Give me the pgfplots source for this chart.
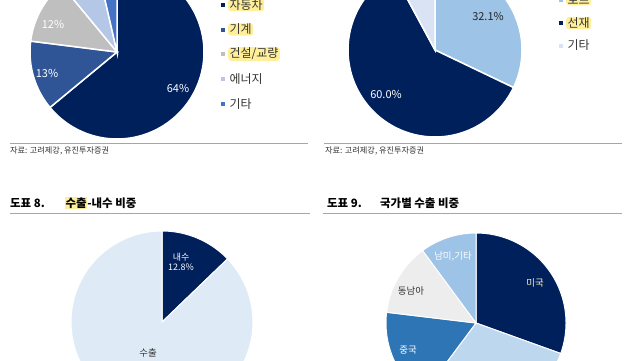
\documentclass[border=0pt]{standalone}
\usepackage{pgfplots}
\pgfplotsset{compat=1.18}
\usepackage{fontspec}
\setmainfont{Noto Sans CJK KR}
\definecolor{navy}{HTML}{00205B}
\definecolor{midblue}{HTML}{2F5597}
\definecolor{pgray}{HTML}{BFBFBF}
\definecolor{lblue}{HTML}{B4C7E7}
\definecolor{oblue}{HTML}{4472C4}
\definecolor{sky}{HTML}{9DC3E6}
\definecolor{pale}{HTML}{DAE3F3}
\definecolor{palebl}{HTML}{DEEBF7}
\definecolor{skyl}{HTML}{BDD7EE}
\definecolor{mid2}{HTML}{2E75B6}
\definecolor{lgray}{HTML}{EDEDED}
\definecolor{hl}{HTML}{FFEF9A}
\definecolor{txt}{HTML}{333333}
\definecolor{rule}{HTML}{A6A6A6}
\newcommand\fs[1]{\fontsize{#1}{#1}\selectfont}
\pgfplotsset{pieaxis/.style={hide axis, x=1bp, y=1bp, xmin=-100, xmax=100, ymin=-100, ymax=100, anchor=center, clip=false}}
\newcommand\pielw{1.5bp}
% #1 radius, #2 list value/colour, clockwise from 12 o'clock
\newcommand\pie[2]{%
  \gdef\cum{0}%
  \foreach \v/\c in {#2}{%
    \pgfmathsetmacro\aS{90-3.6*\cum}%
    \pgfmathsetmacro\aE{90-3.6*(\cum+\v)}%
    \edef\temp{\noexpand\addplot[fill=\c, draw=white, line width=\pielw, data cs=polar, domain=\aE:\aS, samples=90] ({x},{#1}) -- (axis cs:0,0) -- cycle;}%
    \temp
    \pgfmathsetmacro\newcum{\cum+\v}\xdef\cum{\newcum}%
  }}
\newcommand\legitem[5]{% x marker, y, colour, text, highlight colour
  \fill[#3] (#1-2,-#2+2) rectangle (#1+2,-#2-2);
  \node[anchor=west, fill=#5, rounded corners=3bp, inner xsep=1.5bp, inner ysep=0.8bp, text=txt, font=\fs{12}] at (#1+5,-#2) {#4};}
\begin{document}
\begin{tikzpicture}[x=1bp,y=1bp]
\path[use as bounding box] (0,0) rectangle (640,-360);
\clip (0,0) rectangle (640,-360);
\fill[white] (0,0) rectangle (640,-360);

% ---------- top-left pie
\begin{axis}[pieaxis, at={(117,-52)}]
\pie{87}{64/navy, 13/midblue, 12/pgray, 7.4/lblue, 3.6/oblue}
\end{axis}
\node[white,font=\fs{11}] at (178,-88) {64\%};
\node[white,font=\fs{11}] at (47,-73) {13\%};
\node[white,font=\fs{11}] at (53,-24) {12\%};
\legitem{223}{5}{navy}{자동차}{hl}
\legitem{223}{29.5}{midblue}{기계}{hl}
\legitem{223}{54}{pgray}{건설/교량}{hl}
\legitem{223}{79}{lblue}{에너지}{white}
\legitem{223}{104}{oblue}{기타}{white}
\draw[rule, line width=0.8bp] (10,-143) -- (308,-143);
\node[anchor=west, inner sep=0pt, text=txt, font=\fs{8.2}] at (10,-151) {자료: 고려제강, 유진투자증권};

% ---------- top-right pie
\begin{axis}[pieaxis, at={(435,-50)}]
\pie{87}{32.1/sky, 60.0/navy, 7.9/pale}
\end{axis}
\node[text=black!85,font=\fs{11}] at (488,-16) {32.1\%};
\node[white,font=\fs{11}] at (386,-94) {60.0\%};
\legitem{561}{0}{sky}{로프}{hl}
\legitem{561}{23}{navy}{선재}{hl}
\legitem{561}{45.5}{pale}{기타}{white}
\draw[rule, line width=0.8bp] (324,-143) -- (622,-143);
\node[anchor=west, inner sep=0pt, text=txt, font=\fs{8.2}] at (325,-151) {자료: 고려제강, 유진투자증권};

% ---------- bottom-left
\node[anchor=west, inner sep=0pt, font=\fs{11.5}\bfseries] at (10,-203) {도표 8.};
\node[anchor=west, inner sep=0pt, font=\fs{11.5}\bfseries] at (65,-203) {\setlength{\fboxsep}{0.5pt}\colorbox{hl}{수출}-내수 비중};
\draw[rule, line width=1bp] (10,-213) -- (310,-213);
\renewcommand\pielw{1bp}
\begin{axis}[pieaxis, at={(162,-322)}]
\pie{91}{12.8/navy, 87.2/palebl}
\end{axis}
\node[white,font=\fs{9}, align=center, inner sep=0pt] at (181,-262) {내수\\[1pt]12.8\%};
\node[text=txt,font=\fs{9.5}, inner sep=0pt] at (148,-353) {수출};

% ---------- bottom-right
\node[anchor=west, inner sep=0pt, font=\fs{11.5}\bfseries] at (327,-203) {도표 9.};
\node[anchor=west, inner sep=0pt, font=\fs{11.5}\bfseries] at (380,-203) {국가별 수출 비중};
\draw[rule, line width=1bp] (323,-213) -- (622,-213);
\begin{axis}[pieaxis, at={(476,-323)}]
\pie{90}{30.5/navy, 29.7/skyl, 16.7/mid2, 13/lgray, 10.1/sky}
\end{axis}
\node[text={rgb,255:red,255;green,245;blue,200},font=\fs{9.5}] at (535,-283) {미국};
\node[white,font=\fs{9.5}] at (453,-256) {남미,기타};
\node[text=txt,font=\fs{9.5}] at (411,-291) {동남아};
\node[white,font=\fs{9.5}] at (408,-350) {중국};
\end{tikzpicture}
\end{document}
